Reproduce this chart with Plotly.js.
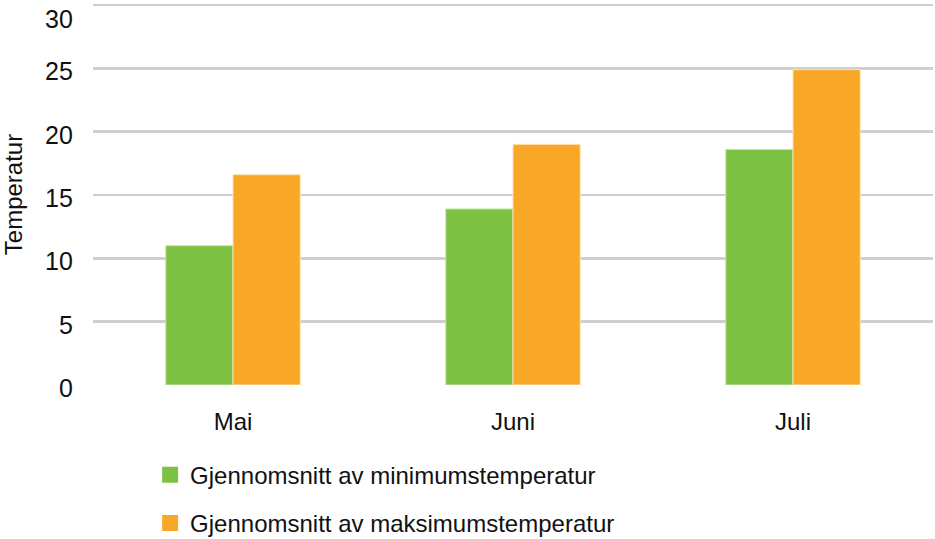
<!DOCTYPE html>
<html>
<head>
<meta charset="utf-8">
<script src="https://cdn.plot.ly/plotly-3.0.1.min.js"></script>
<style>html,body{margin:0;padding:0;background:#fff;}#chart{width:935px;height:539px;}</style>
</head>
<body>
<div id="chart"></div>
<script>
const months = ["Mai", "Juni", "Juli"];
const minTemp = [11.0, 13.9, 18.6];
const maxTemp = [16.6, 19.0, 24.9];
const seriesNames = ["Gjennomsnitt av minimumstemperatur", "Gjennomsnitt av maksimumstemperatur"];
const seriesColors = ["#7DC142", "#F9A727"];
const yTicks = [0, 5, 10, 15, 20, 25, 30];

const font = "Liberation Sans, Arial, Helvetica, sans-serif";
const textColor = "#111";
const yTop = Math.max(...yTicks);

const traces = [
  {type: "bar", x: months, y: minTemp, name: seriesNames[0], showlegend: false,
   marker: {color: seriesColors[0], line: {color: "#c8e6b0", width: 1}}},
  {type: "bar", x: months, y: maxTemp, name: seriesNames[1], showlegend: false,
   marker: {color: seriesColors[1], line: {color: "#fde1b5", width: 1}}},
  // legend-only entries with larger square swatches
  {type: "scatter", mode: "markers", x: [months[0]], y: [null], name: seriesNames[0],
   legendgroup: "a", marker: {symbol: "square", size: 16, color: seriesColors[0]}},
  {type: "scatter", mode: "markers", x: [months[0]], y: [null], name: seriesNames[1],
   legendgroup: "b", marker: {symbol: "square", size: 16, color: seriesColors[1]}}
];

// y tick labels placed on the y axis scale (annotations so the top one stays inside the page)
const yLabelAnnotations = yTicks.map(v => ({
  xref: "paper", yref: "y", x: -0.021, y: v, xanchor: "right",
  yanchor: v === yTop ? "top" : "middle",
  text: String(v), showarrow: false, yshift: v === yTop ? 2 : -3,
  font: {family: font, size: 25, color: textColor}
}));

const layout = {
  width: 935, height: 539,
  margin: {l: 93, r: 2, t: 4, b: 154},
  paper_bgcolor: "#fff", plot_bgcolor: "#fff",
  font: {family: font, size: 24, color: textColor},
  barmode: "group",
  bargap: 0.52, bargroupgap: 0,
  xaxis: {
    showgrid: false, zeroline: false, showline: false, ticks: "",
    tickfont: {family: font, size: 24, color: textColor},
    ticklabelstandoff: 20
  },
  yaxis: {
    range: [0, 30.08], tickvals: yTicks, showticklabels: false,
    showgrid: true, gridcolor: "#cfcfcf", gridwidth: 2.5,
    zeroline: false, showline: false, ticks: "",
    title: {text: "Temperatur", font: {family: font, size: 24, color: textColor}, standoff: 70}
  },
  annotations: yLabelAnnotations,
  showlegend: true,
  legend: {
    orientation: "v", x: 0.068, xanchor: "left", xref: "paper",
    y: 0.16, yanchor: "top", yref: "container",
    traceorder: "grouped", tracegroupgap: 14, itemwidth: 30,
    font: {family: font, size: 24, color: textColor},
    bgcolor: "rgba(0,0,0,0)"
  }
};

Plotly.newPlot("chart", traces, layout, {staticPlot: true, displayModeBar: false});
</script>
</body>
</html>
